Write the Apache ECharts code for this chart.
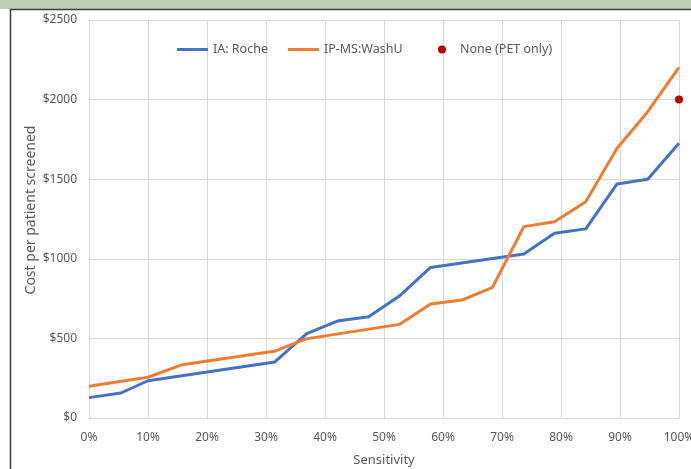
<!DOCTYPE html>
<html>
<head>
<meta charset="utf-8">
<script src="https://cdn.jsdelivr.net/npm/echarts@6/dist/echarts.min.js"></script>
<style>
  html, body { margin: 0; padding: 0; background: #ffffff; }
  #chart { width: 691px; height: 469px; }
</style>
</head>
<body>
<div id="chart"></div>
<script>
// Cost per patient screened vs. sensitivity, by screening assay
const rocheSensitivity = [0, 5.4, 10, 31.5, 36.9, 42.1, 47.4, 52.6, 57.9, 73.7, 78.9, 84.2, 89.5, 94.7, 100];
const rocheCost        = [128, 157, 234, 352, 530, 609, 636, 766, 946, 1030, 1160, 1188, 1470, 1500, 1726];

const washuSensitivity = [0, 10, 15.8, 31.6, 36.8, 52.6, 57.9, 63.2, 68.4, 73.7, 78.9, 84.2, 89.5, 94.7, 100];
const washuCost        = [199, 256, 335, 421, 497, 588, 716, 741, 821, 1202, 1233, 1359, 1694, 1924, 2203];

const petOnlySensitivity = [100];
const petOnlyCost        = [2000];

const seriesNames = ['IA: Roche', 'IP-MS:WashU', 'None (PET only)'];

const pairs = (xs, ys) => xs.map((x, i) => [x, ys[i]]);

const FONT = 'Noto Sans';
const TEXT = '#595959';
const GRID = '#d9d9d9';

const chart = echarts.init(document.getElementById('chart'), null, { renderer: 'canvas' });

chart.setOption({
  animation: false,
  backgroundColor: '#ffffff',
  textStyle: { fontFamily: FONT, color: TEXT },
  grid: { left: 89, right: 12, top: 20, bottom: 51, containLabel: false, outerBoundsMode: 'none' },
  graphic: [
    { type: 'rect', shape: { x: 0, y: 0, width: 691, height: 9 }, style: { fill: '#bdcfb0' }, silent: true },
    { type: 'polyline', shape: { points: [[10.5, 469], [10.5, 9.5], [691, 9.5]] },
      style: { stroke: '#3c3c3c', lineWidth: 1.5, fill: null }, silent: true },
    { type: 'text', x: 31, y: 210, rotation: Math.PI / 2,
      style: { text: 'Cost per patient screened', font: '14px "' + FONT + '"', fill: TEXT,
               align: 'center', verticalAlign: 'middle' }, silent: true }
  ],
  legend: [
    {
      data: [seriesNames[0], seriesNames[1]],
      left: 172, top: 38,
      icon: 'rect', itemWidth: 31, itemHeight: 3, itemGap: 20,
      textStyle: { fontFamily: FONT, fontSize: 12.5, color: TEXT }
    },
    {
      data: [seriesNames[2]],
      left: 433, top: 38,
      icon: 'circle', itemWidth: 8, itemHeight: 8,
      textStyle: { fontFamily: FONT, fontSize: 12.5, color: TEXT, padding: [0, 0, 0, 9] }
    }
  ],
  xAxis: {
    type: 'value', min: 0, max: 100, interval: 10,
    name: 'Sensitivity', nameLocation: 'middle', nameGap: 36,
    nameTextStyle: { fontFamily: FONT, fontSize: 13, color: TEXT },
    axisLine: { show: true, lineStyle: { color: GRID, width: 1 } },
    axisTick: { show: false },
    axisLabel: { margin: 14, fontSize: 12, color: TEXT, formatter: v => v + '%' },
    splitLine: { show: true, lineStyle: { color: GRID, width: 1 } }
  },
  yAxis: {
    type: 'value', min: 0, max: 2500, interval: 500,
    axisLine: { show: false },
    axisTick: { show: false },
    axisLabel: { margin: 12, fontSize: 12, color: TEXT, formatter: v => '$' + v },
    splitLine: { show: true, lineStyle: { color: GRID, width: 1 } }
  },
  series: [
    {
      name: seriesNames[0], type: 'line', data: pairs(rocheSensitivity, rocheCost),
      showSymbol: false, symbol: 'none',
      lineStyle: { color: '#4472c4', width: 3 }, itemStyle: { color: '#4472c4' }
    },
    {
      name: seriesNames[1], type: 'line', data: pairs(washuSensitivity, washuCost),
      showSymbol: false, symbol: 'none',
      lineStyle: { color: '#ed7d31', width: 3 }, itemStyle: { color: '#ed7d31' }
    },
    {
      name: seriesNames[2], type: 'scatter', data: pairs(petOnlySensitivity, petOnlyCost),
      symbol: 'circle', symbolSize: 8, itemStyle: { color: '#c00000', opacity: 1 }
    }
  ]
});
</script>
</body>
</html>
